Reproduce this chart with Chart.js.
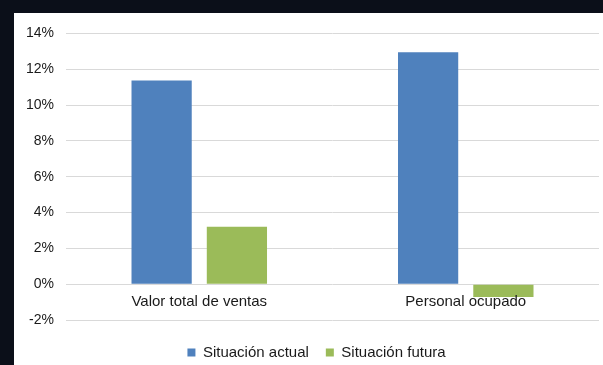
<!DOCTYPE html>
<html>
<head>
<meta charset="utf-8">
<script src="https://cdn.jsdelivr.net/npm/chart.js@4"></script>
<style>
  html, body { margin: 0; padding: 0; background: #0b0f19; }
  #wrap { position: absolute; left: 14px; top: 13px; width: 589px; height: 352px; background: #fff; }
</style>
</head>
<body>
<div id="wrap"><canvas id="canvas-1"></canvas></div>
<script>
// categories and series (percent)
var categorias = ['Valor total de ventas', 'Personal ocupado'];
var situacionActual = [11.37, 12.95];
var situacionFutura = [3.2, -0.72];
var yTicks = { min: -2, max: 14, step: 2 };

var textColor = '#1a1a1a';
var fontFamily = '"Liberation Sans", Arial, sans-serif';

// category names sit just under the 0% line, like an axis crossing at zero
var zeroAxisLabels = {
  id: 'zeroAxisLabels',
  afterDatasetsDraw: function (chart) {
    var ctx = chart.ctx;
    var x = chart.scales.x;
    var y0 = chart.scales.y.getPixelForValue(0);
    ctx.save();
    ctx.font = '15px ' + fontFamily;
    ctx.fillStyle = textColor;
    ctx.textAlign = 'center';
    ctx.textBaseline = 'middle';
    categorias.forEach(function (c, i) {
      ctx.fillText(c, x.getPixelForValue(i), y0 + 18);
    });
    ctx.restore();
  }
};

// nudge the legend a little right so it sits closer to the plot's middle
var legendNudge = {
  id: 'legendNudge',
  afterLayout: function (chart) {
    if (chart.legend) {
      chart.legend.left += 10;
      chart.legend.right += 10;
    }
  }
};

var barChart = new Chart(document.getElementById('canvas-1'), {
  type: 'bar',
  data: {
    labels: categorias,
    datasets: [{
      label: 'Situación actual',
      backgroundColor: '#4f81bd',
      data: situacionActual
    }, {
      label: 'Situación futura',
      backgroundColor: '#9bbb59',
      data: situacionFutura
    }]
  },
  options: {
    responsive: true,
    maintainAspectRatio: false,
    animation: false,
    datasets: {
      bar: { categoryPercentage: 0.565, barPercentage: 0.8 }
    },
    layout: { padding: { left: 0, right: 4, top: 8, bottom: -5 } },
    plugins: {
      tooltip: { enabled: false },
      legend: {
        position: 'bottom',
        labels: {
          boxWidth: 8,
          boxHeight: 8,
          padding: 17,
          color: textColor,
          font: { family: fontFamily, size: 15 }
        }
      }
    },
    scales: {
      x: {
        grid: { display: false },
        border: { display: false },
        ticks: { display: false }
      },
      y: {
        min: yTicks.min,
        max: yTicks.max,
        border: { display: false },
        grid: { color: '#d9d9d9', lineWidth: 1, drawTicks: false },
        ticks: {
          stepSize: yTicks.step,
          padding: 12,
          color: textColor,
          font: { family: fontFamily, size: 14 },
          callback: function (v) { return v + '%'; }
        }
      }
    }
  },
  plugins: [zeroAxisLabels, legendNudge]
});
</script>
</body>
</html>
